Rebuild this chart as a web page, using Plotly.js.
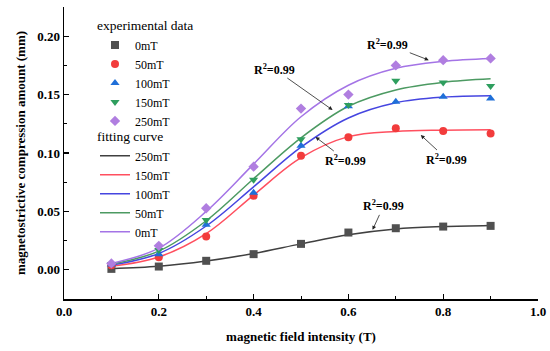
<!DOCTYPE html>
<html>
<head>
<meta charset="utf-8">
<script src="https://cdn.plot.ly/plotly-3.0.1.min.js"></script>
<style>html,body{margin:0;padding:0;background:#fff}#chart{width:550px;height:351px}</style>
</head>
<body>
<div id="chart"></div>
<script>
// field intensity (T)
var fieldX = [0.1, 0.2, 0.3, 0.4, 0.5, 0.6, 0.7, 0.8, 0.9];

// experimental data (mm)
var exp0mT   = [0.0008, 0.0028, 0.0077, 0.0134, 0.0222, 0.0319, 0.0356, 0.0370, 0.0376];
var exp50mT  = [0.0040, 0.0108, 0.0285, 0.0635, 0.0977, 0.1134, 0.1211, 0.1188, 0.1168];
var exp100mT = [0.0045, 0.0134, 0.0385, 0.0660, 0.1063, 0.1400, 0.1439, 0.1481, 0.1467];
var exp150mT = [0.0050, 0.0170, 0.0427, 0.0770, 0.1117, 0.1410, 0.1618, 0.1604, 0.1573];
var exp250mT = [0.0055, 0.0205, 0.0527, 0.0883, 0.1380, 0.1500, 0.1750, 0.1795, 0.1810];

// fitting curves
var fit250mT = [0.0010, 0.0030, 0.0075, 0.0140, 0.0222, 0.0300, 0.0350, 0.0370, 0.0380];
var fit150mT = [0.0030, 0.0110, 0.0310, 0.0640, 0.0960, 0.1140, 0.1185, 0.1195, 0.1198];
var fit100mT = [0.0040, 0.0140, 0.0375, 0.0710, 0.1050, 0.1300, 0.1430, 0.1478, 0.1490];
var fit50mT  = [0.0048, 0.0160, 0.0420, 0.0780, 0.1130, 0.1400, 0.1540, 0.1605, 0.1635];
var fit0mT   = [0.0055, 0.0185, 0.0500, 0.0905, 0.1310, 0.1580, 0.1725, 0.1785, 0.1810];

var expLabels = ['0mT', '50mT', '100mT', '150mT', '250mT'];
var fitLabels = ['250mT', '150mT', '100mT', '50mT', '0mT'];

var expSeries = [exp0mT, exp50mT, exp100mT, exp150mT, exp250mT];
var expColors = ['#505050', '#f23c3c', '#1f6fd8', '#2e9e5e', '#b07ee0'];
var expSymbols = ['square', 'circle', 'triangle-up', 'triangle-down', 'diamond'];

var fitSeries = [fit250mT, fit150mT, fit100mT, fit50mT, fit0mT];
var fitColors = ['#404040', '#ff4f5f', '#4545e0', '#4c9a62', '#a474e6'];

var serif = 'Liberation Serif, Times New Roman, serif';
var traces = [];
for (var i = 0; i < fitSeries.length; i++) {
  traces.push({
    x: fieldX, y: fitSeries[i], type: 'scatter', mode: 'lines',
    line: {color: fitColors[i], width: 1.5, shape: 'spline', smoothing: 1},
    name: fitLabels[i], legend: 'legend2'
  });
}
for (var j = 0; j < expSeries.length; j++) {
  traces.push({
    x: fieldX, y: expSeries[j], type: 'scatter', mode: 'markers',
    marker: {color: expColors[j], symbol: expSymbols[j], size: 8},
    name: expLabels[j], legend: 'legend'
  });
}

function ann(x, y, ax, ay) {
  return {x: x, y: y, xref: 'x', yref: 'y', ax: ax, ay: ay,
    text: '<b>R<sup>2</sup>=0.99</b>', showarrow: true, arrowhead: 2,
    arrowsize: 1, arrowwidth: 0.8, arrowcolor: '#222',
    font: {family: serif, size: 12, color: '#000'}};
}

var layout = {
  width: 550, height: 351,
  margin: {l: 64, r: 12, t: 7, b: 52},
  paper_bgcolor: '#fff', plot_bgcolor: '#fff',
  showlegend: true,
  font: {family: serif, color: '#000'},
  xaxis: {
    range: [0, 1.0], tickvals: [0, 0.2, 0.4, 0.6, 0.8, 1.0],
    ticktext: ['0.0', '0.2', '0.4', '0.6', '0.8', '1.0'],
    ticks: 'inside', ticklen: 5, tickwidth: 1.2, tickcolor: '#000',
    minor: {dtick: 0.1, ticks: 'inside', ticklen: 3, tickwidth: 1, tickcolor: '#000'},
    showline: true, linecolor: '#000', linewidth: 1.5,
    showgrid: false, zeroline: false,
    tickfont: {family: serif, size: 13, weight: 'bold'},
    title: {text: 'magnetic field intensity (T)', font: {family: serif, size: 13, weight: 'bold'}, standoff: 14}
  },
  yaxis: {
    range: [-0.025, 0.225], tickvals: [0, 0.05, 0.10, 0.15, 0.20],
    ticktext: ['0.00', '0.05', '0.10', '0.15', '0.20'],
    ticks: 'inside', ticklen: 5, tickwidth: 1.2, tickcolor: '#000',
    minor: {dtick: 0.025, ticks: 'inside', ticklen: 3, tickwidth: 1, tickcolor: '#000'},
    showline: true, linecolor: '#000', linewidth: 1.5,
    showgrid: false, zeroline: false,
    tickfont: {family: serif, size: 13, weight: 'bold'},
    title: {text: 'magnetostrictive compression amount (mm)', font: {family: serif, size: 13, weight: 'bold'}, standoff: 8}
  },
  legend: {
    x: 0.0654, xanchor: 'left', y: 0.98, yanchor: 'top',
    bgcolor: 'rgba(0,0,0,0)', font: {family: serif, size: 12},
    title: {text: 'experimental data', font: {family: serif, size: 13.5}},
    tracegroupgap: 0
  },
  legend2: {
    x: 0.0654, xanchor: 'left', y: 0.6, yanchor: 'top',
    bgcolor: 'rgba(0,0,0,0)', font: {family: serif, size: 12},
    title: {text: 'fitting curve', font: {family: serif, size: 13.5}},
    tracegroupgap: 0
  },
  annotations: [
    ann(0.7696, 0.1795, -41, -16),
    ann(0.5666, 0.1368, -58, -41),
    ann(0.5307, 0.1137, 30, 23),
    ann(0.7526, 0.1154, 26, 24),
    ann(0.651, 0.0342, 11, -24)
  ]
};

Plotly.newPlot('chart', traces, layout, {displayModeBar: false, staticPlot: true});
</script>
</body>
</html>
